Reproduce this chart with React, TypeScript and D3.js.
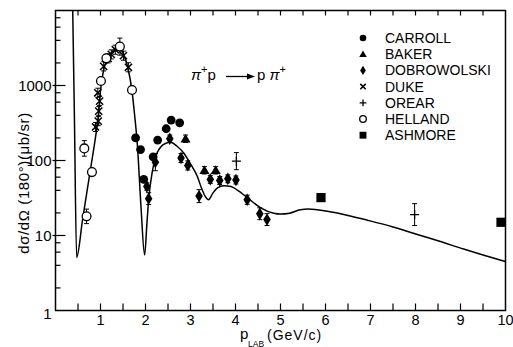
import React from "react";
import * as d3 from "d3";

// Plot frame (pixel box of the axes)
const W = 513;
const H = 347;
const X0 = 55.5;
const X1 = 505.5;
const Y0 = 310.5;
const Y1 = 10.5;

const FONT = "'Liberation Sans', Arial, Helvetica, sans-serif";

// Theory curve: p_LAB (GeV/c) vs dσ/dΩ(180°) (μb/sr)
const curveP = [
  0.37, 0.42, 0.47, 0.6, 0.7, 0.8, 0.9, 0.95, 1.0, 1.05, 1.1, 1.2, 1.3, 1.42,
  1.5, 1.6, 1.7, 1.75, 1.82, 1.9, 1.98, 2.03, 2.07, 2.15, 2.22, 2.33, 2.45,
  2.56, 2.7, 2.85, 3.0, 3.15, 3.25, 3.33, 3.4, 3.5, 3.6, 3.74, 3.9, 4.05, 4.26,
  4.56, 4.85, 5.0, 5.2, 5.44, 5.62, 6.04, 6.5, 6.93, 7.5, 8.04, 8.5, 9.07, 9.5,
  10.0,
];
const curveSigma = [
  30000, 390, 5.1, 16, 38.7, 93, 226, 380, 850, 1400, 1900, 2550, 3000, 3300,
  2700, 1800, 850, 450, 160, 24, 5.5, 14, 30, 70, 110, 149, 170, 175, 155, 126,
  90, 61.7, 42, 33, 30, 37, 43, 46, 45, 40, 32, 23.4, 19.8, 19.3, 19.8, 22,
  22.5, 21, 18.5, 16, 13, 10.3, 8.5, 6.6, 5.5, 4.5,
];

// Measurements (p, σ, relative error)
const carrollP = [1.78, 1.89, 1.96, 2.17, 2.27, 2.46, 2.57, 2.76];
const carrollSigma = [200, 140, 56, 112, 187, 265, 346, 318];

const bakerP = [2.89, 3.31, 3.56];
const bakerSigma = [195, 74, 74];
const bakerErr = [0.12, 0.12, 0.12];

const dobrowolskiP = [
  2.03, 2.07, 2.22, 2.54, 2.79, 2.94, 3.19, 3.44, 3.65, 3.83, 4.01, 4.26, 4.54,
  4.7,
];
const dobrowolskiSigma = [
  45, 31, 95, 195, 108, 86, 33.5, 56, 54, 57, 55, 30, 19.5, 16.3,
];
const dobrowolskiErr = [
  0.12, 0.2, 0.3, 0.12, 0.15, 0.15, 0.22, 0.13, 0.13, 0.13, 0.13, 0.15, 0.2,
  0.2,
];

const dukeP = [0.89, 0.95, 0.96, 0.98, 0.94, 1.07, 1.17, 1.24, 1.33, 1.51, 1.62];
const dukeSigma = [280, 335, 455, 620, 800, 1800, 2300, 2600, 3000, 2500, 1750];
const dukeErr = [0.15, 0.15, 0.15, 0.15, 0.15, 0.15, 0.15, 0.15, 0.15, 0.15, 0.15];

const orearP = [4.02, 7.98];
const orearSigma = [98, 19];
const orearErr = [0.3, 0.4];

const hellandP = [0.64, 0.69, 0.81, 1.01, 1.13, 1.43, 1.7];
const hellandSigma = [145, 18, 70, 1150, 2300, 3300, 870];
const hellandErr = [0.27, 0.25, 0.1, 0.08, 0.08, 0.3, 0.12];

const ashmoreP = [5.9, 9.9];
const ashmoreSigma = [32, 15];

const legendNames = [
  "CARROLL",
  "BAKER",
  "DOBROWOLSKI",
  "DUKE",
  "OREAR",
  "HELLAND",
  "ASHMORE",
];

const xTickLabels = [1, 2, 3, 4, 5, 6, 7, 8, 9, 10];
const yTickLabels = [1, 10, 100, 1000];

type Sym =
  | "dot"
  | "triangle"
  | "diamond"
  | "cross"
  | "plus"
  | "ring"
  | "square";

const legendSyms: Sym[] = [
  "dot",
  "triangle",
  "diamond",
  "cross",
  "plus",
  "ring",
  "square",
];

function Marker({ sym, cx, cy, s }: { sym: Sym; cx: number; cy: number; s: number }) {
  switch (sym) {
    case "dot":
      return <circle cx={cx} cy={cy} r={4.4 * s} fill="#000" />;
    case "ring":
      return (
        <circle cx={cx} cy={cy} r={4.4 * s} fill="#fff" stroke="#000" strokeWidth={1.3} />
      );
    case "triangle": {
      const a = 5 * s;
      return (
        <path
          d={`M${cx},${cy - a}L${cx + a},${cy + a * 0.75}L${cx - a},${cy + a * 0.75}Z`}
          fill="#000"
        />
      );
    }
    case "diamond": {
      const w = 3.8 * s;
      const h = 6.2 * s;
      return (
        <path
          d={`M${cx},${cy - h}L${cx + w},${cy}L${cx},${cy + h}L${cx - w},${cy}Z`}
          fill="#000"
        />
      );
    }
    case "cross": {
      const a = 3.6 * s;
      return (
        <path
          d={`M${cx - a},${cy - a}L${cx + a},${cy + a}M${cx - a},${cy + a}L${cx + a},${cy - a}`}
          stroke="#000"
          strokeWidth={1.5}
        />
      );
    }
    case "plus": {
      const a = 4.5 * s;
      return (
        <path
          d={`M${cx - a},${cy}L${cx + a},${cy}M${cx},${cy - a}L${cx},${cy + a}`}
          stroke="#000"
          strokeWidth={1.3}
        />
      );
    }
    case "square": {
      const a = 4.6 * s;
      return <rect x={cx - a} y={cy - a} width={2 * a} height={2 * a} fill="#000" />;
    }
  }
  return null;
}

export default function App() {
  const x = d3.scaleLinear().domain([0, 10]).range([X0, X1]);
  const y = d3.scaleLog().domain([1, 10000]).range([Y0, Y1]);

  const curvePts: [number, number][] = curveP.map((p, i) => [p, curveSigma[i]]);
  const line = d3
    .line<[number, number]>()
    .x((d) => x(d[0]))
    .y((d) => y(d[1]))
    .curve(d3.curveMonotoneX);

  const errBar = (p: number, s: number, e: number, key: string) => {
    const cx = x(p);
    const yHi = y(s * (1 + e));
    const yLo = y(s / (1 + e));
    return (
      <g key={key} stroke="#000" strokeWidth={1}>
        <line x1={cx} x2={cx} y1={yHi} y2={yLo} />
        <line x1={cx - 2.5} x2={cx + 2.5} y1={yHi} y2={yHi} />
        <line x1={cx - 2.5} x2={cx + 2.5} y1={yLo} y2={yLo} />
      </g>
    );
  };

  const halfTicks = d3.range(1, 20).map((k) => k * 0.5);
  const minorY: number[] = [];
  [1, 10, 100, 1000].forEach((d) => [2, 4, 6, 8].forEach((m) => minorY.push(d * m)));

  return (
    <svg
      width={W}
      height={H}
      viewBox={`0 0 ${W} ${H}`}
      style={{ position: "absolute", left: 0, top: 0, background: "#fff" }}
    >
      <defs>
        <clipPath id="plotArea">
          <rect x={X0} y={Y1} width={X1 - X0} height={Y0 - Y1} />
        </clipPath>
      </defs>
      <rect x={0} y={0} width={W} height={H} fill="#fff" />

      {/* frame */}
      <rect
        x={X0}
        y={Y1}
        width={X1 - X0}
        height={Y0 - Y1}
        fill="none"
        stroke="#000"
        strokeWidth={1.5}
      />

      {/* x ticks on bottom and top */}
      {halfTicks.map((t) => (
        <g key={`xt${t}`} stroke="#000" strokeWidth={1.2}>
          <line x1={x(t)} x2={x(t)} y1={Y0} y2={Y0 - 7} />
          <line x1={x(t)} x2={x(t)} y1={Y1} y2={Y1 + 5} />
        </g>
      ))}
      {xTickLabels.map((t) => (
        <text
          key={`xl${t}`}
          x={x(t)}
          y={Y0 + 14}
          textAnchor="middle"
          fontFamily={FONT}
          fontSize={14.5}
        >
          {t}
        </text>
      ))}

      {/* y ticks */}
      {yTickLabels.slice(1).map((t) => (
        <line
          key={`ym${t}`}
          x1={X0 - 3}
          x2={X0 + 10}
          y1={y(t)}
          y2={y(t)}
          stroke="#000"
          strokeWidth={1.2}
        />
      ))}
      {minorY.map((t) => (
        <line
          key={`yn${t}`}
          x1={X0}
          x2={X0 + 5}
          y1={y(t)}
          y2={y(t)}
          stroke="#000"
          strokeWidth={1.2}
        />
      ))}
      {yTickLabels.map((t) => (
        <text
          key={`yl${t}`}
          x={X0 - 4}
          y={y(t) + 5.5 + (t === 1 ? 3 : 0)}
          textAnchor="end"
          fontFamily={FONT}
          fontSize={15}
        >
          {t}
        </text>
      ))}

      {/* theory curve */}
      <path
        d={line(curvePts) ?? ""}
        fill="none"
        stroke="#000"
        strokeWidth={1.5}
        clipPath="url(#plotArea)"
      />

      {/* error bars */}
      {bakerP.map((p, i) => errBar(p, bakerSigma[i], bakerErr[i], `be${i}`))}
      {dobrowolskiP.map((p, i) => errBar(p, dobrowolskiSigma[i], dobrowolskiErr[i], `de${i}`))}
      {dukeP.map((p, i) => errBar(p, dukeSigma[i], dukeErr[i], `ke${i}`))}
      {orearP.map((p, i) => errBar(p, orearSigma[i], orearErr[i], `oe${i}`))}
      {hellandP.map((p, i) => errBar(p, hellandSigma[i], hellandErr[i], `he${i}`))}

      {/* markers */}
      {carrollP.map((p, i) => (
        <Marker key={`c${i}`} sym="dot" cx={x(p)} cy={y(carrollSigma[i])} s={1} />
      ))}
      {bakerP.map((p, i) => (
        <Marker key={`b${i}`} sym="triangle" cx={x(p)} cy={y(bakerSigma[i])} s={1} />
      ))}
      {dobrowolskiP.map((p, i) => (
        <Marker key={`d${i}`} sym="diamond" cx={x(p)} cy={y(dobrowolskiSigma[i])} s={1} />
      ))}
      {dukeP.map((p, i) => (
        <Marker key={`k${i}`} sym="cross" cx={x(p)} cy={y(dukeSigma[i])} s={1} />
      ))}
      {orearP.map((p, i) => (
        <Marker key={`o${i}`} sym="plus" cx={x(p)} cy={y(orearSigma[i])} s={1} />
      ))}
      {hellandP.map((p, i) => (
        <Marker key={`h${i}`} sym="ring" cx={x(p)} cy={y(hellandSigma[i])} s={1} />
      ))}
      {ashmoreP.map((p, i) => (
        <Marker key={`a${i}`} sym="square" cx={x(p)} cy={y(ashmoreSigma[i])} s={1} />
      ))}

      {/* legend */}
      {legendNames.map((name, i) => (
        <g key={name}>
          <Marker sym={legendSyms[i]} cx={363} cy={38 + i * 16.2} s={0.75} />
          <text x={385} y={43 + i * 16.2} fontFamily={FONT} fontSize={14}>
            {name}
          </text>
        </g>
      ))}

      {/* reaction */}
      <text x={191} y={80} fontFamily={FONT} fontSize={15}>
        <tspan fontStyle="italic">π</tspan>
        <tspan fontSize={11} dy={-7}>+</tspan>
        <tspan dy={7}>p</tspan>
      </text>
      <path d="M226,76.5L250,76.5" stroke="#000" strokeWidth={1.3} />
      <path d="M255,76.5L247,73.5L247,79.5Z" fill="#000" />
      <text x={257} y={80} fontFamily={FONT} fontSize={15}>
        <tspan>p </tspan>
        <tspan fontStyle="italic">π</tspan>
        <tspan fontSize={11} dy={-7}>+</tspan>
      </text>

      {/* axis titles */}
      <text
        transform="translate(29,183) rotate(-90)"
        textAnchor="middle"
        fontFamily={FONT}
        fontSize={15}
        letterSpacing={0.6}
      >
        dσ/dΩ (180°)(μb/sr)
      </text>
      <text x={240} y={339} fontFamily={FONT} fontSize={15}>
        p
      </text>
      <text x={248} y={346.5} fontFamily={FONT} fontSize={8.5}>
        LAB
      </text>
      <text x={267} y={340} fontFamily={FONT} fontSize={14} letterSpacing={1}>
        (GeV/c)
      </text>
    </svg>
  );
}
